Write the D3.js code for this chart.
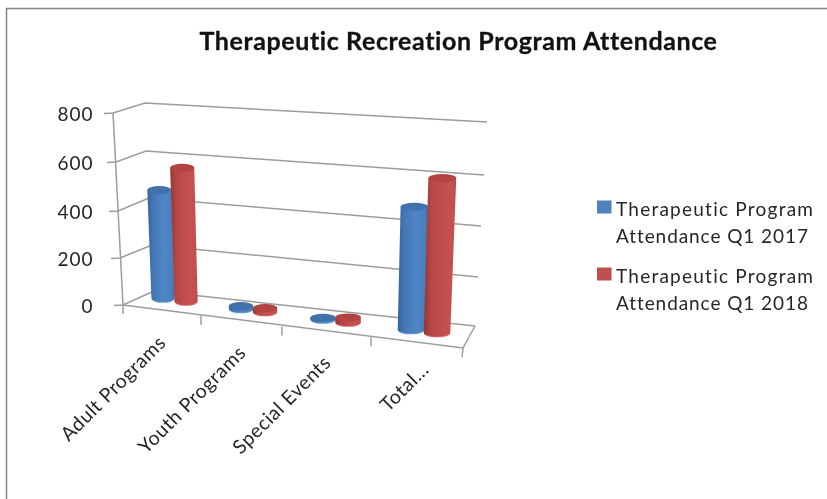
<!DOCTYPE html>
<html><head><meta charset="utf-8">
<script src="https://cdn.jsdelivr.net/npm/d3@7"></script>
<style>html,body{margin:0;padding:0;background:#fff}svg{display:block;filter:blur(.45px)}text{font-family:Lato,sans-serif;fill:#262626;font-variant-ligatures:none}</style>
</head><body><svg id="c" width="827" height="499"></svg>
<script>
const categories=["Adult Programs","Youth Programs","Special Events","Total..."];
const series2017=[450,10,5,465];
const series2018=[555,14,18,585];
const seriesNames=[["Therapeutic Program","Attendance Q1 2017"],["Therapeutic Program","Attendance Q1 2018"]];
const tickValues=[0,200,400,600,800];
const chartTitle="Therapeutic Recreation Program Attendance";

const svg=d3.select("#c");
const defs=svg.append("defs");
function grad(id,stops){const g=defs.append("linearGradient").attr("id",id);
  stops.forEach(s=>g.append("stop").attr("offset",s[0]).attr("stop-color",s[1]));}
grad("g0",[[0,"#35649c"],[.22,"#4477b6"],[.6,"#4f86c6"],[.9,"#4a7fbd"],[1,"#3f6ea8"]]);
grad("g1",[[0,"#8e3533"],[.22,"#b54745"],[.65,"#c5504e"],[.92,"#c44f4c"],[1,"#b04442"]]);
const topCol=["#4272ac","#b24442"], lipCol=["#6f9fd8","#d96c69"];

// frame
svg.append("path").attr("d","M6.5,499V8.5H827").attr("fill","none").attr("stroke","#858585").attr("stroke-width",1.5);
svg.append("text").attr("x",458.5).attr("y",50).attr("text-anchor","middle").attr("font-weight",700).attr("font-size",25).attr("letter-spacing",.6)
  .attr("stroke","#111").attr("stroke-width",.3).style("fill","#111").text(chartTitle);

// wall scales
const fx=d3.scaleLinear().domain(tickValues).range([123,120,118,116,113]);
const fy=d3.scaleLinear().domain(tickValues).range([305,258,211,162,113]);
const bx=d3.scaleLinear().domain(tickValues).range([154,152,149,146,145]);
const by=d3.scaleLinear().domain(tickValues).range([291,245,198,151,103]);
const rx=d3.scaleLinear().domain(tickValues).range([475,478,481,484,487]);
const ry=d3.scaleLinear().domain(tickValues).range([326,277,226,175,122]);
const gridC="#9c9c9c";
const line=d3.line();
svg.append("g").selectAll("path").data(tickValues).join("path")
 .attr("d",v=>line([[fx(v)-9,fy(v)+.5],[fx(v),fy(v)],[bx(v),by(v)],[rx(v),ry(v)]]))
 .attr("fill","none").attr("stroke",gridC).attr("stroke-width",1.5);
svg.append("path").attr("d",line([[fx(0),fy(0)],[fx(800),fy(800)]])).attr("fill","none").attr("stroke",gridC).attr("stroke-width",1.5);
// tick labels
svg.append("g").selectAll("text").data(tickValues).join("text")
 .attr("x",93.5).attr("y",v=>fy(v)+8).attr("text-anchor","end").attr("font-size",19).attr("letter-spacing",1).text(v=>v);
// floor and category axis
const tickIdx=[0,1,2,3,4];
const ax=d3.scaleLinear().domain(tickIdx).range([123,201,282,371,463]);
const ay=d3.scaleLinear().domain([0,4]).range([305,348]);
svg.append("path").attr("d",line([[ax(0),ay(0)],[ax(4),ay(4)],[rx(0),ry(0)]])).attr("fill","none").attr("stroke",gridC).attr("stroke-width",1.5);
svg.append("g").selectAll("path").data(tickIdx).join("path")
 .attr("d",i=>line([[ax(i),ay(i)],[ax(i)-(i==4?1:0),ay(i)+9]])).attr("fill","none").attr("stroke",gridC).attr("stroke-width",1.5);
// category labels
const catIdx=[0,1,2,3];
const labelX=d3.scaleLinear().domain(catIdx).range([167,247,332,430]);
const labelY=d3.scaleLinear().domain(catIdx).range([344,354,364,371]);
svg.append("g").selectAll("text").data(categories).join("text")
 .attr("text-anchor","end").attr("font-size",19.5).attr("letter-spacing",.5)
 .attr("transform",(d,i)=>`translate(${labelX(i)},${labelY(i)}) rotate(-45)`).text(d=>d);

// cylinders
const barX=d3.scaleLinear().domain(catIdx).range([174.5,253,335.5,424]);
const barY=d3.scaleLinear().domain([0,3]).range([299.5,331]);
const offset=d3.scaleLinear().domain([0,3]).range([11.5,13]);
const radius=d3.scaleLinear().domain([0,3]).range([11.6,13.3]);
const unit=d3.scaleLinear().domain([0,3]).range([.24,.264]);
const vanishX=300, lean=.00025, er=4;
const bars=[];
categories.forEach((c,i)=>{[series2017,series2018].forEach((s,k)=>{
  const sign=k?1:-1, x=barX(i)+sign*offset(i), y=barY(i)+sign*1.5, h=s[i]*unit(i);
  bars.push({x,y,h,k,r:radius(i),tx:x+(x-vanishX)*h*lean});
});});
const gb=svg.append("g").selectAll("g").data(bars).join("g");
gb.append("ellipse").attr("cx",d=>d.x).attr("cy",d=>d.y+.8).attr("rx",d=>d.r).attr("ry",er).attr("fill",d=>lipCol[d.k]);
gb.append("path").attr("fill",d=>`url(#g${d.k})`).attr("d",d=>{
  const rt=d.r*(1+d.h*.0003);
  return `M${d.tx-rt},${d.y-d.h}L${d.x-d.r},${d.y}A${d.r},${er} 0 0 0 ${d.x+d.r},${d.y}L${d.tx+rt},${d.y-d.h}Z`;});
gb.append("ellipse").attr("cx",d=>d.tx).attr("cy",d=>d.y-d.h).attr("rx",d=>d.r*(1+d.h*.0003)).attr("ry",er).attr("fill",d=>topCol[d.k]);

// legend
const legY=d3.scaleOrdinal().domain([0,1]).range([0,67]);
const lg=svg.append("g").selectAll("g").data(seriesNames).join("g").attr("transform",(d,i)=>`translate(0,${legY(i)})`);
lg.append("rect").attr("x",597).attr("y",200.5).attr("width",14.5).attr("height",13).attr("fill",(d,i)=>["#4f81bd","#c0504d"][i]);
lg.append("text").attr("x",616).attr("y",216).attr("font-size",19).attr("textLength",197).text(d=>d[0]);
lg.append("text").attr("x",616).attr("y",243).attr("font-size",19).attr("textLength",192).text(d=>d[1]);
</script></body></html>
